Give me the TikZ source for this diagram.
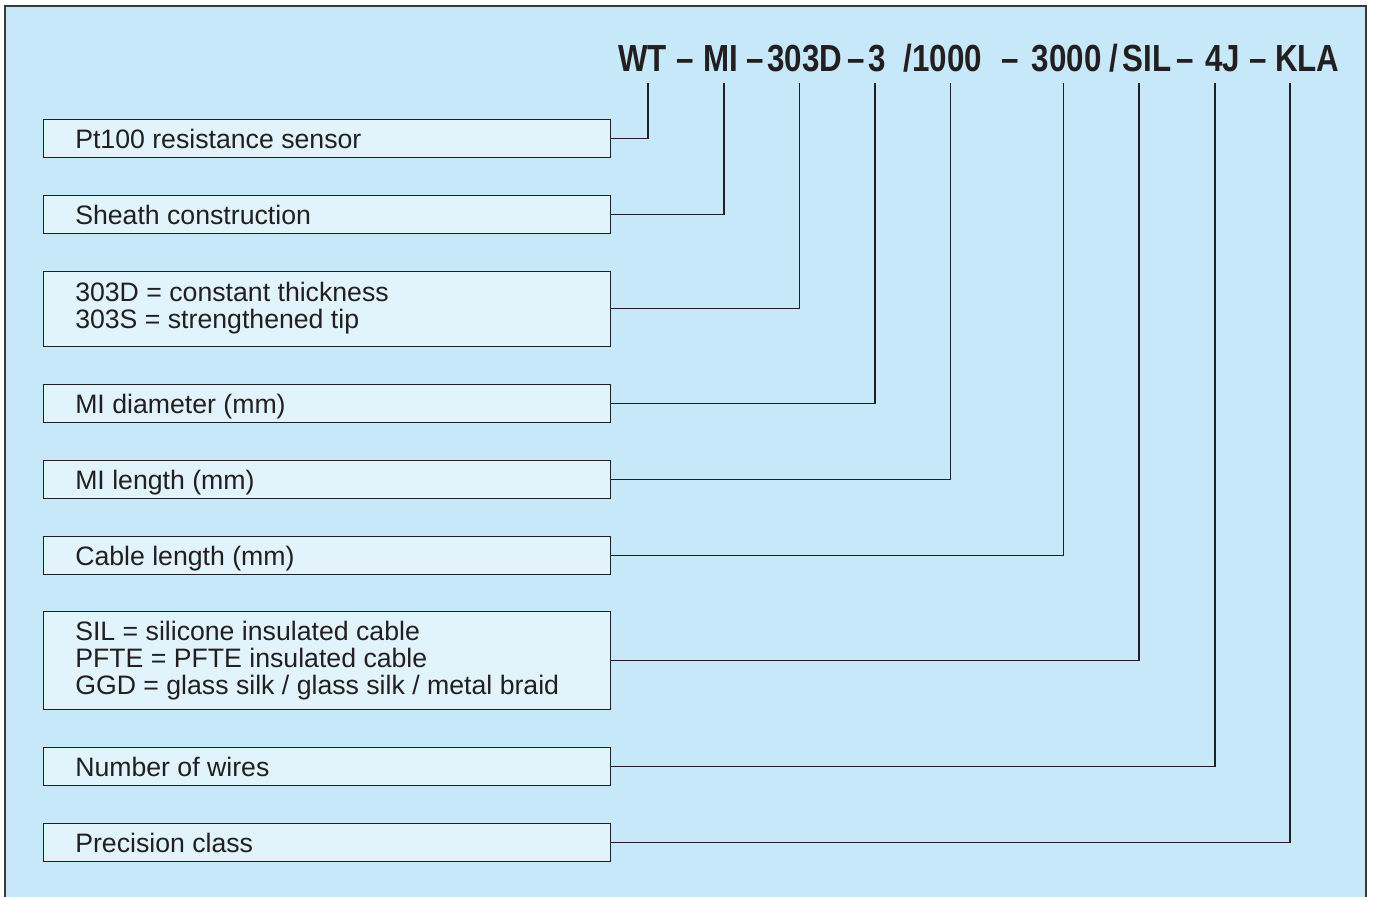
\documentclass[tikz,border=0pt]{standalone}
\usepackage{fontspec}
\setmainfont{Liberation Sans}
\usepackage{graphicx}
\definecolor{bg}{HTML}{C6E8F8}
\definecolor{boxfill}{HTML}{E1F3FB}
\definecolor{ink}{HTML}{231F20}
\definecolor{framecol}{HTML}{3A3A3A}
\newcommand{\hdrtxt}[1]{\scalebox{0.83}[1]{\bfseries #1}}
\begin{document}
\begin{tikzpicture}[x=0.75pt,y=-0.75pt,
  descbox/.style={draw=ink, line width=1.1pt, fill=boxfill, minimum width=425.25pt, inner sep=0pt, anchor=north west},
  desctext/.style={anchor=base west, inner sep=0pt, text=ink, font=\fontsize{20pt}{20.25pt}\selectfont},
  hdr/.style={anchor=base, inner sep=0pt, text=ink, font=\fontsize{28.3pt}{30pt}\selectfont},
  link/.style={draw=ink, line width=1pt}]
\useasboundingbox (0,0) rectangle (1373,896);
\clip (0,0) rectangle (1373,896);
% frame
\fill[bg] (5,6) rectangle (1366,910);
\draw[framecol, line width=1.2pt] (5,910) -- (5,6) -- (1366,6) -- (1366,910);

% header code
\node[hdr] (hWT)   at (642.6,71) {\hdrtxt{WT}};
\node[hdr] (dA)    at (685,71)   {\hdrtxt{–}};
\node[hdr] (hMI)   at (720.7,71) {\hdrtxt{MI}};
\node[hdr] (dB)    at (754.7,71) {\hdrtxt{–}};
\node[hdr] (hD)    at (805,71)   {\hdrtxt{303D}};
\node[hdr] (dC)    at (856,71)   {\hdrtxt{–}};
\node[hdr] (hDia)  at (877.6,71) {\hdrtxt{3}};
\node[hdr] (hLen)  at (943,71)   {\hdrtxt{/1000}};
\node[hdr] (dD)    at (1010,71)  {\hdrtxt{–}};
\node[hdr] (hCab)  at (1066.7,71){\hdrtxt{3000}};
\node[hdr] (sl)    at (1113.5,71){\hdrtxt{/}};
\node[hdr] (hSIL)  at (1146.8,71){\hdrtxt{SIL}};
\node[hdr] (dE)    at (1185,71)  {\hdrtxt{–}};
\node[hdr] (hJ)    at (1222.7,71){\hdrtxt{4J}};
\node[hdr] (dF)    at (1258,71)  {\hdrtxt{–}};
\node[hdr] (hKLA)  at (1307.4,71){\hdrtxt{KLA}};

% connector tops
\coordinate (c1) at (648,83);
\coordinate (c2) at (724,83);
\coordinate (c3) at (799.5,83);
\coordinate (c4) at (875,83);
\coordinate (c5) at (950.5,83);
\coordinate (c6) at (1063.5,83);
\coordinate (c7) at (1139,83);
\coordinate (c8) at (1215,83);
\coordinate (c9) at (1290,83);

% boxes
\node[descbox, minimum height=28.5pt] (b1) at (43,119) {};
\node[descbox, minimum height=28.5pt] (b2) at (43,195) {};
\node[descbox, minimum height=56.25pt] (b3) at (43,270.5) {};
\node[descbox, minimum height=28.5pt] (b4) at (43,384) {};
\node[descbox, minimum height=28.5pt] (b5) at (43,460) {};
\node[descbox, minimum height=28.5pt] (b6) at (43,536) {};
\node[descbox, minimum height=73.5pt] (b7) at (43,611) {};
\node[descbox, minimum height=28.5pt] (b8) at (43,747) {};
\node[descbox, minimum height=28.5pt] (b9) at (43,823) {};

% texts
\node[desctext] (t1)  at (75,148.3) {Pt100 resistance sensor};
\node[desctext] (t2)  at (75,224.3) {Sheath construction};
\node[desctext] (t3a) at (75,301.5) {303D = constant thickness};
\node[desctext] (t3b) at (75,328.5) {303S = strengthened tip};
\node[desctext] (t4)  at (75,413.3) {MI diameter (mm)};
\node[desctext] (t5)  at (75,489.3) {MI length (mm)};
\node[desctext] (t6)  at (75,565.3) {Cable length (mm)};
\node[desctext] (t7a) at (75,640.5) {SIL = silicone insulated cable};
\node[desctext] (t7b) at (75,667.5) {PFTE = PFTE insulated cable};
\node[desctext] (t7c) at (75,694.5) {GGD = glass silk / glass silk / metal braid};
\node[desctext] (t8)  at (75,776.3) {Number of wires};
\node[desctext] (t9)  at (75,852.3) {Precision class};

% connectors
\draw[link] (b1.east) -| (c1);
\draw[link] (b2.east) -| (c2);
\draw[link] (b3.east) -| (c3);
\draw[link] (b4.east) -| (c4);
\draw[link] (b5.east) -| (c5);
\draw[link] (b6.east) -| (c6);
\draw[link] (b7.east) -| (c7);
\draw[link] (b8.east) -| (c8);
\draw[link] (b9.east) -| (c9);
\end{tikzpicture}
\end{document}
